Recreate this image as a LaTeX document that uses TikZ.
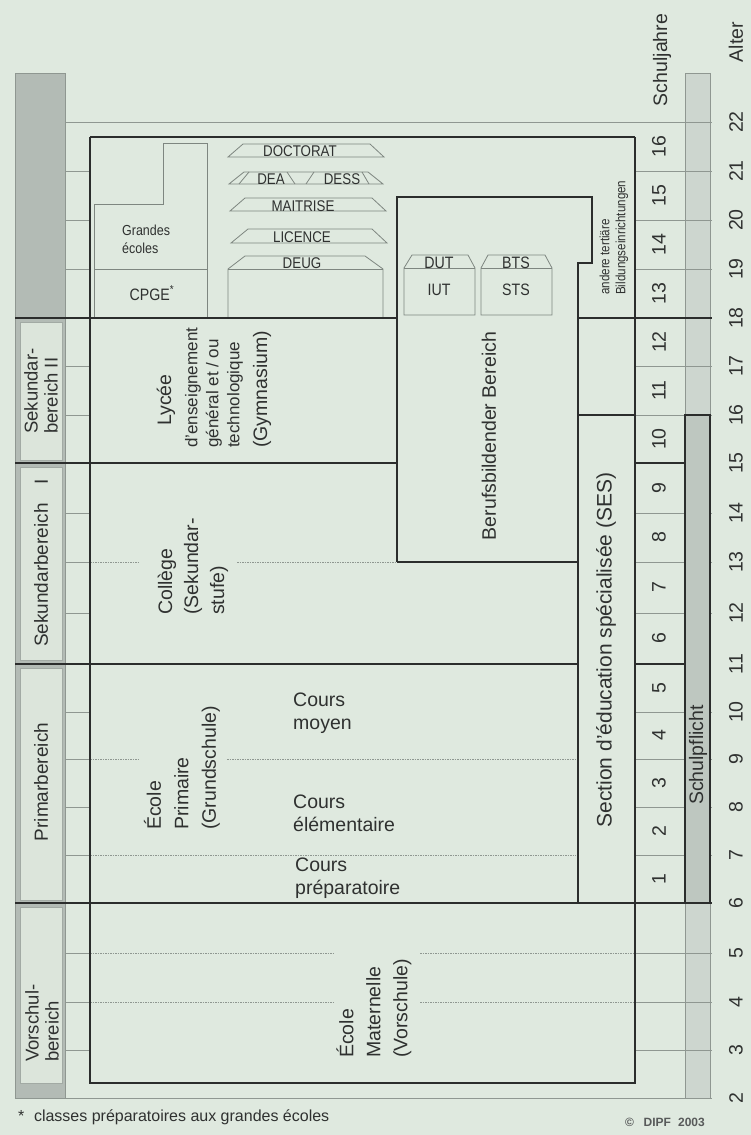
\documentclass[tikz,border=0pt]{standalone}
\usepackage{fontspec}
\setmainfont{Liberation Sans}
\newfontfamily\condfont[FakeStretch=0.86]{Liberation Sans}
\definecolor{bg}{HTML}{DFE9DF}
\definecolor{stripgray}{HTML}{B3BBB5}
\definecolor{boxfill}{HTML}{DCE5DB}
\definecolor{boxline}{HTML}{A2AAA4}
\definecolor{barlight}{HTML}{CDD6CF}
\definecolor{pflicht}{HTML}{BEC7C0}
\definecolor{linedark}{HTML}{2B2D2C}
\definecolor{linegray}{HTML}{8F9791}
\definecolor{shapegray}{HTML}{7E8680}
\definecolor{txt}{HTML}{2F3130}
\begin{document}
\begin{tikzpicture}[x=1pt,y=-1pt,
  thickln/.style={line width=2.3pt, draw=linedark},
  thinln/.style={line width=0.8pt, draw=linegray},
  boxln/.style={line width=0.9pt, draw=boxline},
  dotln/.style={line width=0.7pt, draw=linegray, dash pattern=on 1.5pt off 1pt},
  shapeln/.style={line width=0.8pt, draw=shapegray},
  lbl/.style={text=txt, inner sep=0pt, font=\fontsize{19.5}{24}\selectfont},
  rlbl/.style={lbl, rotate=90},
  small/.style={text=txt, inner sep=0pt, font=\condfont\fontsize{15.5}{18}\selectfont},
  mid/.style={text=txt, inner sep=0pt, font=\condfont\fontsize{16.5}{18}\selectfont},
]
\fill[bg] (0,0) rectangle (751,1135);
\useasboundingbox (0,0) rectangle (751,1135);

% side strips
\draw[thinln, fill=stripgray] (15,73) rectangle (65,1098);
\draw[thinln, fill=barlight] (685,73) rectangle (710,1098);
\draw[boxln, fill=boxfill] (20,322) rectangle (62,460);
\draw[boxln, fill=boxfill] (20,467) rectangle (62,660);
\draw[boxln, fill=boxfill] (20,668) rectangle (62,900);
\draw[boxln, fill=boxfill] (20,907) rectangle (62,1083);

% thin age lines
\draw[thinln] (65,122) -- (712,122);
\draw[thinln] (65,1098) -- (712,1098);
\foreach \y in {171,220,269,366,415,513,562,613,712,759,807,855,953,1002,1050}{
  \draw[thinln] (65,\y) -- (90,\y);
  \draw[thinln] (635,\y) -- (712,\y);
}

% dotted year lines inside the boxes
\draw[dotln] (90,562) -- (140,562) (237,562) -- (397,562);
\draw[dotln] (90,759) -- (138,759) (227,759) -- (576,759);
\draw[dotln] (90,855) -- (576,855);
\draw[dotln] (90,953) -- (333,953) (420,953) -- (633,953);
\draw[dotln] (90,1002) -- (333,1002) (420,1002) -- (633,1002);

% tertiary inner shapes
\draw[shapeln] (94,317) -- (94,204) -- (163,204) -- (163,143) -- (207,143) -- (207,317);
\draw[shapeln] (94,269) -- (207,269);
\draw[shapeln] (228,157) -- (243,144) -- (370,144) -- (384,157) -- cycle;
\draw[shapeln] (229,184) -- (244,172) -- (368,172) -- (383,184) -- cycle;
\draw[shapeln] (239,184) -- (249,172) (287,172) -- (295,184) (306,184) -- (314,172) (362,172) -- (369,184);
\draw[shapeln] (230,211) -- (245,198) -- (372,198) -- (386,211) -- cycle;
\draw[shapeln] (231,243) -- (248,229) -- (372,229) -- (387,243) -- cycle;
\draw[shapeln] (228,317) -- (228,269) -- (245,256) -- (365,256) -- (383,269) -- (383,317);
\draw[shapeln] (228,269) -- (383,269);
\draw[shapeln] (404,315) -- (404,268) -- (412,255) -- (468,255) -- (475,268) -- (475,315) -- cycle;
\draw[shapeln] (404,268) -- (475,268);
\draw[shapeln] (481,315) -- (481,268) -- (488,255) -- (545,255) -- (552,268) -- (552,315) -- cycle;
\draw[shapeln] (481,268) -- (552,268);

% thick structure
\draw[thickln] (90,137) -- (635,137);
\draw[thickln] (90,137) -- (90,1083) -- (635,1083) -- (635,137);
\draw[thickln] (15,318) -- (397,318) (578,318) -- (712,318);
\draw[thickln] (15,463) -- (397,463) (635,463) -- (684,463);
\draw[thickln] (15,664) -- (578,664) (635,664) -- (684,664);
\draw[thickln] (15,903) -- (712,903);
\draw[thickln] (397,562) -- (397,197) -- (592,197) -- (592,263) -- (578,263) -- (578,903);
\draw[thickln] (397,562) -- (578,562);
\draw[thickln] (578,415) -- (635,415);
\draw[thickln, fill=pflicht] (685,415) rectangle (710,903);

% headers and scales
\node[rlbl] (hdrSJ) at (662,60) {Schuljahre};
\node[rlbl] (hdrAlter) at (736,42) {Alter};
\foreach \a/\y in {22/122,21/171,20/220,19/269,18/318,17/366,16/415,15/463,14/513,13/562,12/613,11/664,10/712,9/759,8/807,7/855,6/903,5/953,4/1002,3/1050,2/1098}
  \node[rlbl] (age\a) at (736,\y) {\a};
\foreach \n/\y in {1/879,2/831,3/783,4/735.5,5/688,6/638.5,7/587.5,8/537.5,9/488,10/439,11/390.5,12/342,13/293.5,14/244.5,15/195.5,16/146.5}
  \node[rlbl] (sj\n) at (659,\y) {\n};

% left strip labels
\node[rlbl, font=\fontsize{18.5}{20}\selectfont, align=left, anchor=west] (sek2) at (41,434) {Sekundar-\\bereich II};
\node[rlbl, font=\fontsize{19}{20}\selectfont] (sek1) at (41,563) {Sekundarbereich\hspace{1em}I};
\node[rlbl, font=\fontsize{19}{20}\selectfont] (prim) at (41,782) {Primarbereich};
\node[rlbl, font=\fontsize{18.5}{20}\selectfont, align=left, anchor=west] (vor) at (42,1062) {Vorschul-\\bereich};

% tertiary texts
\node[small] (doct) at (300,151) {DOCTORAT};
\node[small] (dea) at (271,179) {DEA};
\node[small] (dess) at (342,179) {DESS};
\node[small] (mait) at (303,206) {MAITRISE};
\node[small] (lic) at (302,237) {LICENCE};
\node[small] (deug) at (302,263) {DEUG};
\node[small, font=\condfont\fontsize{14.5}{18}\selectfont, align=left, anchor=west] (grand) at (122,239) {Grandes\\écoles};
\node[mid] (cpge) at (152,293) {CPGE\textsuperscript{*}};
\node[mid] (dut) at (439,263) {DUT};
\node[mid] (iut) at (439,290) {IUT};
\node[mid] (bts) at (516,263) {BTS};
\node[mid] (sts) at (516,290) {STS};
\node[rlbl, font=\condfont\fontsize{13.5}{16}\selectfont, align=left, anchor=west] (andere) at (614,295) {andere tertiäre\\Bildungseinrichtungen};

% school texts
\node[rlbl] (lycee) at (166,400) {Lycée};
\node[rlbl, font=\fontsize{17}{21}\selectfont, align=left, anchor=west] (lycee2) at (214,448) {d'enseignement\\général et / ou\\technologique};
\node[rlbl] (gymn) at (262,448) [anchor=west] {(Gymnasium)};
\node[rlbl, font=\fontsize{19.5}{26}\selectfont, align=left, anchor=west] (college) at (193,615) {Collège\\(Sekundar-\\stufe)};
\node[rlbl, font=\fontsize{19.5}{27.5}\selectfont, align=left, anchor=west] (primaire) at (182,830) {École\\Primaire\\(Grundschule)};
\node[rlbl, font=\fontsize{19.5}{27}\selectfont, align=left, anchor=west] (maternelle) at (374,1058) {École\\Maternelle\\(Vorschule)};
\node[lbl, font=\fontsize{19.5}{23}\selectfont, align=left, anchor=west] (cm) at (293,713) {Cours\\moyen};
\node[lbl, font=\fontsize{19.5}{23}\selectfont, align=left, anchor=west] (ce) at (293,813.5) {Cours\\élémentaire};
\node[lbl, font=\fontsize{19.5}{23}\selectfont, align=left, anchor=west] (cp) at (295,878.5) {Cours\\préparatoire};
\node[rlbl] (beruf) at (489,436) {Berufsbildender Bereich};
\node[rlbl, font=\fontsize{21}{24}\selectfont] (ses) at (606,650) {Section d'éducation spécialisée (SES)};
\node[rlbl] (pflicht) at (698,755) {Schulpflicht};

% footer
\node[lbl, font=\fontsize{16}{18}\selectfont, anchor=west] (foot) at (18,1117) {*\hspace{0.6em}classes préparatoires aux grandes écoles};
\node[lbl, font=\fontsize{12}{14}\selectfont\bfseries, text=txt!80] (dipf) at (665,1122) {\textcopyright\hspace{0.8em}DIPF\hspace{0.6em}2003};
\end{tikzpicture}
\end{document}
